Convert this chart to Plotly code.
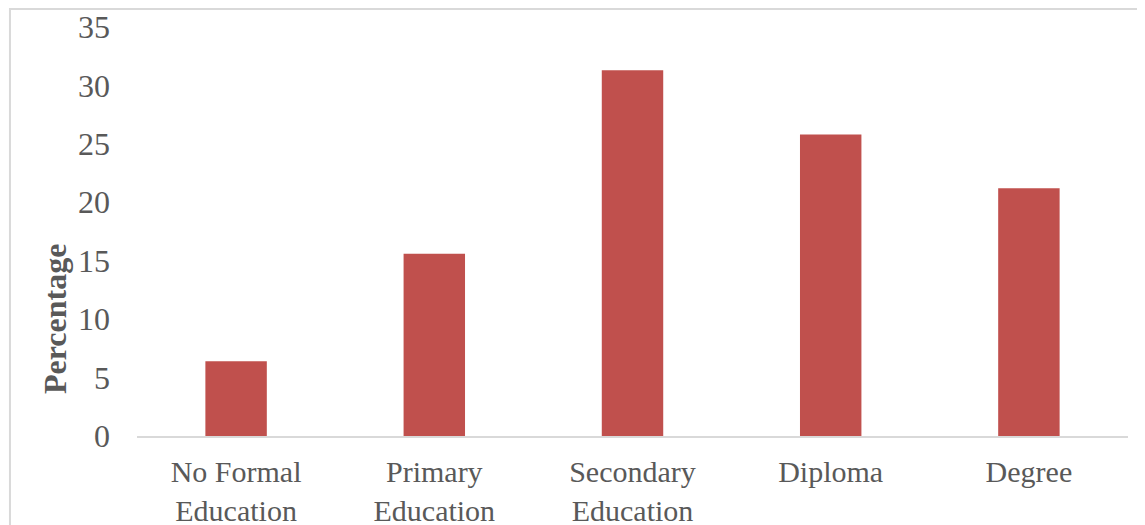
import plotly.graph_objects as go

categories = ["No Formal<br>Education", "Primary<br>Education", "Secondary<br>Education", "Diploma", "Degree"]
values = [6.4, 15.6, 31.3, 25.8, 21.2]
y_ticks = [0, 5, 10, 15, 20, 25, 30, 35]
y_title = "Percentage"

FONT = "Liberation Serif"
GRAY = "#595959"
FS = 32

fig = go.Figure(go.Bar(x=categories, y=values, marker=dict(color="#C0504D", line=dict(width=0))))

fig.update_layout(
    width=1145, height=525,
    margin=dict(l=129, r=25, t=19, b=97, autoexpand=False),
    paper_bgcolor="white", plot_bgcolor="white",
    bargap=0.69,
    showlegend=False,
    font=dict(family=FONT, color=GRAY, size=FS),
    shapes=[dict(type="rect", xref="paper", yref="paper", x0=-0.1282, x1=1.1, y0=-0.4, y1=1.044,
                 line=dict(color="#d9d9d9", width=2), fillcolor="rgba(0,0,0,0)", layer="below")],
    annotations=[dict(text="<b>" + y_title + "</b>", xref="paper", yref="paper",
                      x=-0.0827, y=0.286, xanchor="center", yanchor="middle", textangle=-90,
                      showarrow=False, font=dict(family=FONT, size=FS, color=GRAY))],
)
fig.update_xaxes(showgrid=False, showline=True, linecolor="#d9d9d9", linewidth=1.5, automargin=False,
                 ticks="", tickfont=dict(family=FONT, size=30, color=GRAY), ticklabelstandoff=8)
fig.update_yaxes(range=[0, 35], tickvals=y_ticks, showgrid=False, showline=False, zeroline=False,
                 automargin=False,
                 ticks="", tickfont=dict(family=FONT, size=FS, color=GRAY), ticklabelstandoff=26)

fig.write_html("out.html")
